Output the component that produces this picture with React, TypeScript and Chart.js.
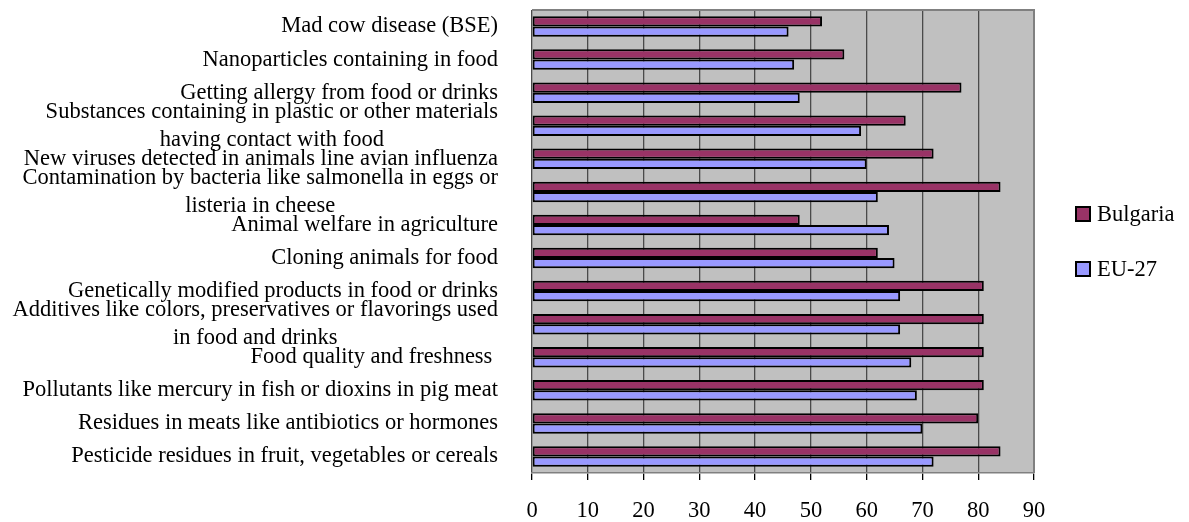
import React, { useEffect, useRef } from 'react';
import { Chart, registerables } from 'chart.js';

Chart.register(...registerables);

const FONT = '"Liberation Serif", "Times New Roman", serif';
const FONT_SIZE = 22.5;

const categories: string[][] = [
  ['Mad cow disease (BSE)'],
  ['Nanoparticles containing in food'],
  ['Getting allergy from food or drinks'],
  ['Substances containing in plastic or other materials', 'having contact with food'],
  ['New viruses detected in animals line avian influenza'],
  ['Contamination by bacteria like salmonella in eggs or', 'listeria in cheese'],
  ['Animal welfare in agriculture'],
  ['Cloning animals for food'],
  ['Genetically modified products in food or drinks'],
  ['Additives like colors, preservatives or flavorings used', 'in food and drinks'],
  ['Food quality and freshness '],
  ['Pollutants like mercury in fish or dioxins in pig meat'],
  ['Residues in meats like antibiotics or hormones'],
  ['Pesticide residues in fruit, vegetables or cereals'],
];

const bulgaria = [52, 56, 77, 67, 72, 84, 48, 62, 81, 81, 81, 81, 80, 84];
const eu27 = [46, 47, 48, 59, 60, 62, 64, 65, 66, 66, 68, 69, 70, 72];

const seriesNames = ['Bulgaria', 'EU-27'];
const seriesColors = ['#993366', '#9999FF'];

const xMin = 0;
const xMax = 90;
const xStep = 10;

const plotPlugin = {
  id: 'plotDecor',
  beforeDraw(chart: any) {
    const { ctx, chartArea: a } = chart;
    ctx.save();
    ctx.fillStyle = '#C0C0C0';
    ctx.fillRect(a.left, a.top, a.right - a.left, a.bottom - a.top);
    ctx.restore();
  },
  afterDatasetsDraw(chart: any) {
    const { ctx, chartArea: a } = chart;
    ctx.save();
    ctx.strokeStyle = '#808080';
    ctx.lineWidth = 2;
    ctx.beginPath();
    ctx.moveTo(a.left, a.top);
    ctx.lineTo(a.right, a.top);
    ctx.lineTo(a.right, a.bottom);
    ctx.stroke();
    ctx.restore();
  },
  afterDraw(chart: any) {
    const { ctx, chartArea: a } = chart;
    const yScale = chart.scales.y;
    ctx.save();
    ctx.font = `${FONT_SIZE}px ${FONT}`;
    ctx.fillStyle = '#000';
    ctx.textBaseline = 'middle';
    ctx.textAlign = 'center';
    const right = a.left - 34;
    const lh = 28;
    categories.forEach((lines, i) => {
      const yc = yScale.getPixelForValue(i);
      const w = Math.max(...lines.map((l) => ctx.measureText(l).width));
      const cx = right - w / 2;
      lines.forEach((l, j) => {
        ctx.fillText(l, cx, yc + (j - (lines.length - 1) / 2) * lh);
      });
    });

    // legend
    const lx = a.right + 42;
    const midY = (a.top + a.bottom) / 2;
    const gap = 55;
    ctx.textAlign = 'left';
    seriesNames.forEach((name, i) => {
      const cy = midY - gap / 2 + i * gap;
      ctx.fillStyle = seriesColors[i];
      ctx.fillRect(lx, cy - 7, 14, 14);
      ctx.strokeStyle = '#000';
      ctx.lineWidth = 2;
      ctx.strokeRect(lx, cy - 7, 14, 14);
      ctx.fillStyle = '#000';
      ctx.fillText(name, lx + 21, cy + 1);
    });
    ctx.restore();
  },
};

export default function App() {
  const ref = useRef<HTMLCanvasElement | null>(null);

  useEffect(() => {
    if (!ref.current) return;
    const chart = new Chart(ref.current, {
      type: 'bar',
      data: {
        labels: categories.map((c) => c.join(' ')),
        datasets: [
          {
            label: seriesNames[0],
            data: bulgaria,
            backgroundColor: seriesColors[0],
            borderColor: '#000',
            borderWidth: 2,
            borderSkipped: false,
            categoryPercentage: 0.62,
            barPercentage: 1,
          },
          {
            label: seriesNames[1],
            data: eu27,
            backgroundColor: seriesColors[1],
            borderColor: '#000',
            borderWidth: 2,
            borderSkipped: false,
            categoryPercentage: 0.62,
            barPercentage: 1,
          },
        ],
      },
      options: {
        indexAxis: 'y',
        animation: false,
        responsive: true,
        maintainAspectRatio: false,
        layout: { padding: { top: 10, right: 155, left: 0, bottom: 0 } },
        plugins: {
          legend: { display: false },
          tooltip: { enabled: false },
        },
        scales: {
          x: {
            min: xMin,
            max: xMax,
            ticks: {
              stepSize: xStep,
              color: '#000',
              font: { family: FONT, size: FONT_SIZE },
              padding: 18,
            },
            grid: {
              color: (c: any) => (c.index === 9 ? '#808080' : '#4a4a4a'),
              lineWidth: 1.3,
              drawTicks: true,
              tickLength: 7,
              tickColor: '#000',
            },
            border: { display: true, color: '#808080', width: 1.5 },
            afterFit: (s: any) => {
              s.height = 49;
            },
          },
          y: {
            ticks: { display: false },
            grid: { display: false },
            border: { display: false },
            afterFit: (s: any) => {
              s.width = 532;
            },
          },
        },
      },
      plugins: [plotPlugin],
    } as any);
    return () => chart.destroy();
  }, []);

  return (
    <div style={{ position: 'absolute', left: 0, top: 0, width: 1189, height: 522, background: '#fff' }}>
      <canvas ref={ref} />
    </div>
  );
}
